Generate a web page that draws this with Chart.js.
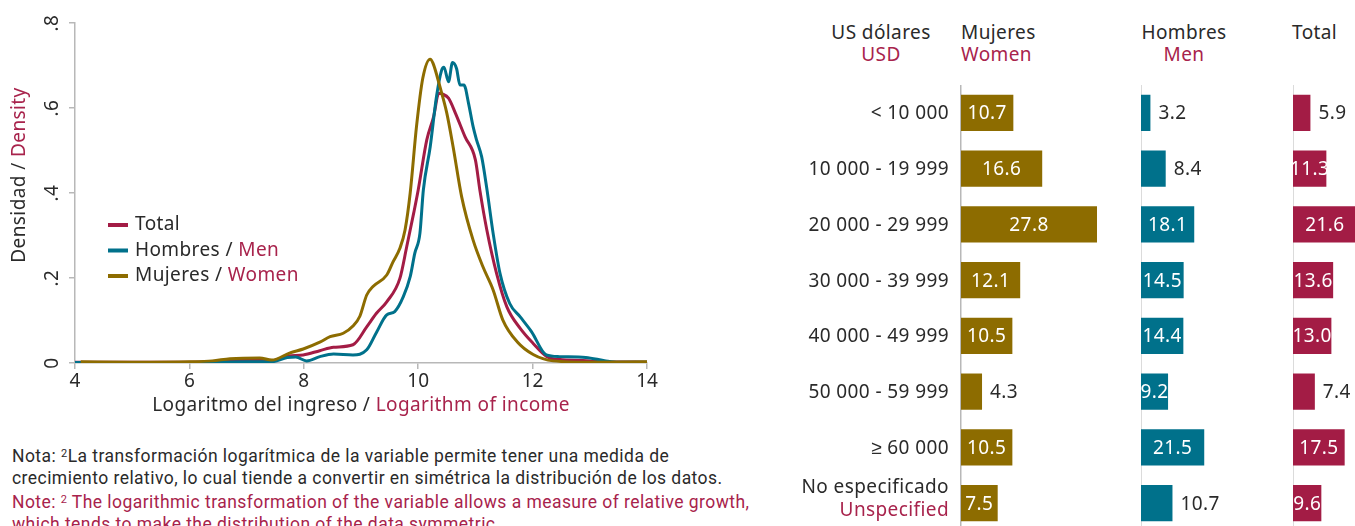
<!DOCTYPE html>
<html lang="es">
<head>
<meta charset="utf-8">
<script src="https://cdn.jsdelivr.net/npm/chart.js@4.4.1/dist/chart.umd.min.js"></script>
<style>
  html, body { margin: 0; padding: 0; background: #fff; overflow: hidden; width: 1355px; height: 526px; }
  body { position: relative; font-family: 'Noto Sans', sans-serif; color: #2a2a2a; }
  .abs { position: absolute; }
  .en { color: #a8234c; }
  .hdr { font-size: 19px; letter-spacing: 0.4px; line-height: 22px; white-space: nowrap; }
  .nota { left: 12px; top: 443px; font-family: Roboto, sans-serif; font-size: 17.5px; letter-spacing: 0.45px; line-height: 21.7px; white-space: nowrap; }
  .nota sup { font-size: 11px; vertical-align: 5px; }
</style>
</head>
<body>
<canvas id="densidad" class="abs" style="left:0;top:0" width="700" height="425"></canvas>

<div class="abs nota">
  Nota: <sup>2</sup>La transformación logarítmica de la variable permite tener una medida de<br>
  crecimiento relativo, lo cual tiende a convertir en simétrica la distribución de los datos.<br>
  <span class="en">Note: <sup>2</sup> The logarithmic transformation of the variable allows a measure of relative growth,<br>
  which tends to make the distribution of the data symmetric.</span>
</div>

<div class="abs hdr" style="left:811px;top:21px;width:140px;text-align:center">US dólares<br><span class="en">USD</span></div>
<div class="abs hdr" style="left:961px;top:21px">Mujeres<br><span class="en">Women</span></div>
<div class="abs hdr" style="left:1124px;top:21px;width:120px;text-align:center">Hombres<br><span class="en">Men</span></div>
<div class="abs hdr" style="left:1292px;top:21px">Total</div>

<canvas id="barMujeres" class="abs" style="left:780px;top:85px" width="340" height="446"></canvas>
<canvas id="barHombres" class="abs" style="left:1141px;top:85px" width="150" height="446"></canvas>
<canvas id="barTotal" class="abs" style="left:1293px;top:85px" width="62" height="446"></canvas>

<script>
// Densidad del logaritmo del ingreso: pares [log ingreso, densidad]
const densTotal = [
  [4.0, 0.002], [5.0, 0.002], [6.0, 0.002], [6.4, 0.003], [6.8, 0.006], [7.2, 0.007], [7.44, 0.005],
  [7.71, 0.016], [7.99, 0.019], [8.28, 0.029], [8.52, 0.037], [8.86, 0.043], [9.10, 0.085],
  [9.27, 0.117], [9.45, 0.144], [9.68, 0.199], [9.80, 0.274], [9.92, 0.352], [10.00, 0.407],
  [10.15, 0.525], [10.27, 0.58], [10.36, 0.635], [10.42, 0.633], [10.53, 0.623], [10.65, 0.588],
  [10.82, 0.532], [11.00, 0.478], [11.08, 0.405], [11.20, 0.313], [11.37, 0.211], [11.55, 0.132],
  [11.78, 0.082], [12.01, 0.046], [12.25, 0.015], [12.48, 0.008], [12.88, 0.006], [13.18, 0.003],
  [14.0, 0.002]
];
const densHombres = [
  [4.0, 0.001], [5.0, 0.001], [6.0, 0.001], [6.4, 0.002], [7.0, 0.003], [7.44, 0.003],
  [7.71, 0.013], [7.86, 0.014], [8.05, 0.005], [8.28, 0.015], [8.52, 0.021], [8.86, 0.019],
  [9.10, 0.031], [9.27, 0.072], [9.45, 0.113], [9.59, 0.121], [9.74, 0.156], [9.86, 0.203],
  [9.94, 0.258], [10.03, 0.305], [10.09, 0.407], [10.21, 0.509], [10.32, 0.627], [10.41, 0.689],
  [10.45, 0.696], [10.53, 0.662], [10.60, 0.707], [10.67, 0.693], [10.73, 0.654], [10.80, 0.654],
  [10.88, 0.611], [10.96, 0.556], [11.02, 0.525], [11.11, 0.485], [11.20, 0.41], [11.31, 0.305],
  [11.43, 0.211], [11.60, 0.14], [11.78, 0.109], [11.98, 0.074], [12.24, 0.019], [12.47, 0.015],
  [12.93, 0.013], [13.28, 0.005], [13.5, 0.002], [14.0, 0.002]
];
const densMujeres = [
  [4.1, 0.003], [5.0, 0.002], [6.0, 0.003], [6.4, 0.005], [6.71, 0.01], [7.23, 0.012], [7.44, 0.007],
  [7.76, 0.024], [7.99, 0.033], [8.28, 0.049], [8.46, 0.062], [8.69, 0.07], [8.86, 0.087],
  [8.98, 0.11], [9.10, 0.16], [9.21, 0.18], [9.45, 0.207], [9.56, 0.238], [9.68, 0.27],
  [9.77, 0.313], [9.86, 0.40], [9.97, 0.556], [10.08, 0.67], [10.21, 0.715], [10.26, 0.705],
  [10.38, 0.65], [10.50, 0.588], [10.61, 0.509], [10.76, 0.391], [10.96, 0.289], [11.13, 0.227],
  [11.31, 0.172], [11.48, 0.101], [11.73, 0.05], [12.01, 0.02], [12.36, 0.005], [13.0, 0.002],
  [14.0, 0.003]
];
const ticksDensidad = ['0', '.2', '.4', '.6', '.8'];

// Distribución por rango de ingreso (US dólares), en %
const rangos = ['< 10 000', '10 000 - 19 999', '20 000 - 29 999', '30 000 - 39 999',
  '40 000 - 49 999', '50 000 - 59 999', '≥ 60 000', 'No especificado'];
const rangoNoEspEn = 'Unspecified';
const pctMujeres = [10.7, 16.6, 27.8, 12.1, 10.5, 4.3, 10.5, 7.5];
const pctHombres = [3.2, 8.4, 18.1, 14.5, 14.4, 9.2, 21.5, 10.7];
const pctTotal = [5.9, 11.3, 21.6, 13.6, 13.0, 7.4, 17.5, 9.6];

const colTotal = '#a31c45';
const colHombres = '#00718b';
const colMujeres = '#8d6c00';
const rojoTexto = '#a8234c';
const oscuro = '#2a2a2a';
const gris = '#b8b8b8';
const FUENTE = "'Noto Sans', sans-serif";

function puntos(pares) {
  return pares.map(p => ({ x: p[0], y: p[1] }));
}

function letra(ctx) {
  ctx.font = '19px ' + FUENTE;
  ctx.letterSpacing = '0.4px';
}

// texto en varios colores seguidos, sobre una misma línea
function textoDoble(ctx, partes, x, y, align) {
  const ancho = partes.reduce((w, p) => w + ctx.measureText(p[0]).width, 0);
  let cx = align === 'center' ? x - ancho / 2 : (align === 'right' ? x - ancho : x);
  ctx.textAlign = 'left';
  partes.forEach(([t, c]) => {
    ctx.fillStyle = c;
    ctx.fillText(t, cx, y);
    cx += ctx.measureText(t).width;
  });
}

// títulos de ejes, etiquetas giradas del eje y y leyenda
const rotulosDensidad = {
  id: 'rotulosDensidad',
  afterDraw(chart) {
    const { ctx, chartArea, scales: { y } } = chart;
    ctx.save();
    letra(ctx);
    ctx.textBaseline = 'middle';

    y.ticks.forEach((t, i) => {
      ctx.save();
      ctx.translate(chartArea.left - 22, y.getPixelForValue(t.value));
      ctx.rotate(-Math.PI / 2);
      ctx.fillStyle = oscuro;
      ctx.textAlign = 'center';
      ctx.fillText(ticksDensidad[i], 0, 0);
      ctx.restore();
    });

    ctx.save();
    ctx.translate(20, 175);
    ctx.rotate(-Math.PI / 2);
    textoDoble(ctx, [['Densidad / ', oscuro], ['Density', rojoTexto]], 0, 0, 'center');
    ctx.restore();

    textoDoble(ctx, [['Logaritmo del ingreso / ', oscuro], ['Logarithm of income', rojoTexto]],
      (chartArea.left + chartArea.right) / 2, 406, 'center');

    const leyenda = [
      [colTotal, [['Total', oscuro]]],
      [colHombres, [['Hombres / ', oscuro], ['Men', rojoTexto]]],
      [colMujeres, [['Mujeres / ', oscuro], ['Women', rojoTexto]]]
    ];
    leyenda.forEach(([col, partes], i) => {
      const ly = 225 + i * 25.5;
      ctx.fillStyle = col;
      ctx.fillRect(chartArea.left + 33, ly - 2, 20, 4);
      textoDoble(ctx, partes, chartArea.left + 60, ly, 'left');
    });
    ctx.restore();
  }
};

new Chart(document.getElementById('densidad'), {
  type: 'line',
  data: {
    datasets: [
      { label: 'Mujeres / Women', data: puntos(densMujeres), borderColor: colMujeres },
      { label: 'Hombres / Men', data: puntos(densHombres), borderColor: colHombres },
      { label: 'Total', data: puntos(densTotal), borderColor: colTotal }
    ]
  },
  options: {
    responsive: false,
    animation: false,
    layout: { padding: { top: 23, right: 53, left: 0, bottom: 0 } },
    elements: {
      point: { radius: 0 },
      line: { borderWidth: 3, cubicInterpolationMode: 'monotone', fill: false }
    },
    plugins: { legend: { display: false }, tooltip: { enabled: false } },
    scales: {
      x: {
        type: 'linear', min: 4, max: 14,
        ticks: { stepSize: 2, color: oscuro, font: { size: 19, family: FUENTE }, padding: 1, maxRotation: 0 },
        grid: { drawOnChartArea: false, tickLength: 6, color: gris, lineWidth: 1.5 },
        border: { color: gris, width: 1.5 },
        afterFit(s) { s.height = 62; }
      },
      y: {
        min: 0, max: 0.8,
        ticks: { stepSize: 0.2, color: 'rgba(0,0,0,0)' },
        grid: { drawOnChartArea: false, tickLength: 6, color: gris, lineWidth: 1.5 },
        border: { color: gris, width: 1.5 },
        afterFit(s) { s.width = 75; }
      }
    }
  },
  plugins: [rotulosDensidad]
});

// valor de cada barra: blanco dentro, oscuro fuera
const rotuloValor = {
  id: 'rotuloValor',
  afterDatasetsDraw(chart, args, opts) {
    const { ctx } = chart;
    const valores = chart.data.datasets[0].data;
    ctx.save();
    letra(ctx);
    ctx.textBaseline = 'middle';
    chart.getDatasetMeta(0).data.forEach((barra, i) => {
      const txt = valores[i].toFixed(1);
      if (opts.fuera.includes(i)) {
        ctx.fillStyle = oscuro;
        ctx.textAlign = 'left';
        ctx.fillText(txt, barra.x + 8, barra.y + 1);
      } else {
        ctx.fillStyle = '#fff';
        ctx.textAlign = 'center';
        ctx.fillText(txt, (barra.x + barra.base) / 2, barra.y + 1);
      }
    });
    ctx.restore();
  }
};

// rangos de ingreso a la izquierda de la columna de mujeres
const rotuloFilas = {
  id: 'rotuloFilas',
  afterDraw(chart) {
    const { ctx, chartArea, scales: { y } } = chart;
    const x = chartArea.left - 12;
    ctx.save();
    letra(ctx);
    ctx.textBaseline = 'middle';
    ctx.textAlign = 'right';
    rangos.forEach((r, i) => {
      const py = y.getPixelForValue(i);
      ctx.fillStyle = oscuro;
      if (i === rangos.length - 1) {
        ctx.fillText(r, x, py - 16);
        ctx.fillStyle = rojoTexto;
        ctx.fillText(rangoNoEspEn, x, py + 7);
      } else {
        ctx.fillText(r, x, py + 1);
      }
    });
    ctx.restore();
  }
};

function barras(id, valores, color, maximo, fuera, extra, izquierda) {
  new Chart(document.getElementById(id), {
    type: 'bar',
    data: {
      labels: rangos,
      datasets: [{ data: valores, backgroundColor: color, categoryPercentage: 0.65, barPercentage: 1 }]
    },
    options: {
      indexAxis: 'y',
      responsive: false,
      animation: false,
      layout: { padding: { left: izquierda, right: 0, top: 0, bottom: 0 } },
      plugins: { legend: { display: false }, tooltip: { enabled: false }, rotuloValor: { fuera: fuera } },
      scales: {
        x: { display: false, min: 0, max: maximo },
        y: {
          ticks: { display: false },
          grid: { display: false, drawTicks: false },
          border: { display: true, color: gris, width: 1.5 },
          afterFit(s) { s.width = 0; }
        }
      }
    },
    plugins: [rotuloValor].concat(extra)
  });
}

barras('barMujeres', pctMujeres, colMujeres, 32.5, [5], [rotuloFilas], 181);
barras('barHombres', pctHombres, colHombres, 51, [0, 1, 7], [], 0);
barras('barTotal', pctTotal, colTotal, 21, [0, 5], [], 0);
</script>
</body>
</html>
